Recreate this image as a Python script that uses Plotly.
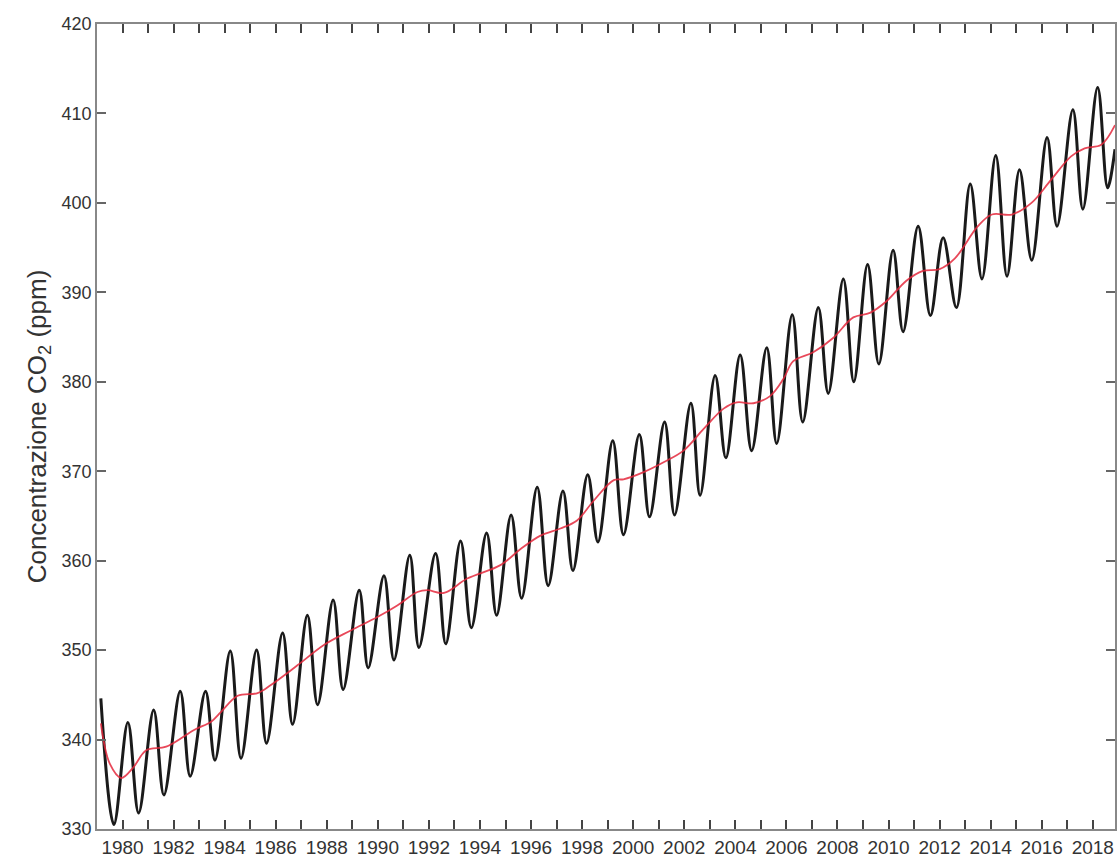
import plotly.graph_objects as go

# Black curve: readings of the monthly CO2 curve (start, troughs/peaks, end)
co2_time = [
    1979.15, 1979.66, 1980.21, 1980.63, 1981.22, 1981.62, 1982.26, 1982.65,
    1983.25, 1983.62, 1984.22, 1984.64, 1985.25, 1985.64, 1986.27, 1986.66,
    1987.24, 1987.64, 1988.25, 1988.64, 1989.27, 1989.62, 1990.24, 1990.63,
    1991.25, 1991.61, 1992.26, 1992.66, 1993.24, 1993.66, 1994.26, 1994.65,
    1995.22, 1995.63, 1996.24, 1996.67, 1997.25, 1997.64, 1998.22, 1998.62,
    1999.20, 1999.62, 2000.24, 2000.64, 2001.23, 2001.62, 2002.26, 2002.62,
    2003.21, 2003.63, 2004.19, 2004.64, 2005.23, 2005.62, 2006.23, 2006.64,
    2007.25, 2007.64, 2008.23, 2008.64, 2009.18, 2009.62, 2010.18, 2010.57,
    2011.16, 2011.64, 2012.14, 2012.66, 2013.20, 2013.66, 2014.20, 2014.64,
    2015.13, 2015.61, 2016.21, 2016.60, 2017.22, 2017.61, 2018.19, 2018.58,
    2018.87,
]
co2_value = [
    344.6, 330.5, 341.9, 331.8, 343.3, 333.8, 345.4, 335.9,
    345.4, 337.7, 349.9, 337.9, 350.0, 339.6, 351.9, 341.7,
    353.9, 343.9, 355.6, 345.6, 356.7, 348.0, 358.3, 348.9,
    360.6, 350.3, 360.8, 350.7, 362.2, 352.5, 363.1, 353.9,
    365.1, 355.8, 368.2, 357.2, 367.8, 358.9, 369.6, 362.1,
    373.4, 362.9, 374.1, 364.9, 375.5, 365.1, 377.6, 367.3,
    380.7, 371.5, 383.0, 372.3, 383.8, 373.1, 387.5, 375.5,
    388.3, 378.7, 391.5, 380.0, 393.1, 382.0, 394.7, 385.6,
    397.4, 387.4, 396.1, 388.3, 402.1, 391.5, 405.3, 391.8,
    403.7, 393.6, 407.3, 397.4, 410.4, 399.3, 412.9, 401.7,
    406.0,
]

# Red curve: de-seasonalised trend
trend_time = [
    1979.15, 1979.50, 1979.95, 1980.40, 1980.93, 1981.71, 1982.82, 1983.47,
    1983.86, 1984.51, 1985.29, 1985.81, 1986.85, 1987.90, 1988.94, 1989.98,
    1990.76, 1991.55, 1991.94, 1992.59, 1993.50, 1994.80, 1995.59, 1996.37,
    1997.15, 1997.80, 1998.45, 1999.24, 1999.62, 2000.41, 2001.19, 2001.97,
    2002.75, 2003.54, 2004.06, 2004.71, 2005.36, 2005.88, 2006.27, 2007.05,
    2007.83, 2008.62, 2009.27, 2009.92, 2010.70, 2011.35, 2012.00, 2012.60,
    2013.50, 2014.05, 2014.83, 2015.60, 2016.37, 2017.15, 2017.68, 2018.33,
    2018.87,
]
trend_value = [
    341.8, 337.3, 335.7, 336.8, 338.8, 339.2, 341.1, 342.0,
    343.1, 344.9, 345.2, 346.1, 348.3, 350.6, 352.2, 353.7,
    355.0, 356.5, 356.7, 356.4, 358.0, 359.5, 361.3, 362.8,
    363.6, 364.5, 366.7, 369.0, 369.1, 369.9, 371.0, 372.3,
    374.7, 377.0, 377.7, 377.6, 378.4, 380.3, 382.3, 383.3,
    384.9, 387.2, 387.7, 389.0, 391.3, 392.4, 392.6, 393.8,
    397.4, 398.7, 398.7, 400.0, 402.6, 405.2, 406.1, 406.5,
    408.7,
]

x_tick_years = list(range(1979, 2019))
x_tick_text = [str(y) if y % 2 == 0 else "" for y in x_tick_years]
y_tick_vals = [330, 340, 350, 360, 370, 380, 390, 400, 410, 420]

fig = go.Figure()
fig.add_trace(go.Scatter(
    x=co2_time, y=co2_value, mode="lines",
    line=dict(color="#1a1a1a", width=3, shape="spline", smoothing=1.0),
    showlegend=False,
))
fig.add_trace(go.Scatter(
    x=trend_time, y=trend_value, mode="lines",
    line=dict(color="rgba(228,40,60,0.85)", width=1.8, shape="spline", smoothing=1.0),
    showlegend=False,
))

family = "Liberation Sans, Arial, sans-serif"
x_font = dict(family=family, size=19, color="#333333")
y_font = dict(family=family, size=18, color="#333333")

fig.update_layout(
    width=1117, height=858,
    margin=dict(l=97, r=0, t=24, b=27),
    paper_bgcolor="white", plot_bgcolor="white",
    font=dict(family=family, color="#333333"),
    xaxis=dict(
        range=[1979, 2018.87],
        tickmode="array", tickvals=x_tick_years, ticktext=x_tick_text,
        ticks="inside", ticklen=9, tickwidth=1.5, tickcolor="#444444",
        showline=True, linecolor="#888888", linewidth=1.5, mirror="ticks",
        showgrid=False, zeroline=False, tickfont=x_font,
    ),
    yaxis=dict(
        range=[330, 420],
        tickmode="array", tickvals=y_tick_vals,
        ticks="inside", ticklen=9, tickwidth=1.5, tickcolor="#666666",
        showline=True, linecolor="#888888", linewidth=1.5, mirror="ticks",
        showgrid=False, zeroline=False, tickfont=y_font,
        title=dict(text="Concentrazione CO<sub>2</sub> (ppm)",
                   font=dict(family=family, size=26, color="#333333"),
                   standoff=8),
    ),
)

fig.write_html(
    "out.html",
    config={"displayModeBar": False},
    post_script="document.body.style.margin='0';document.body.style.overflow='hidden';",
)
